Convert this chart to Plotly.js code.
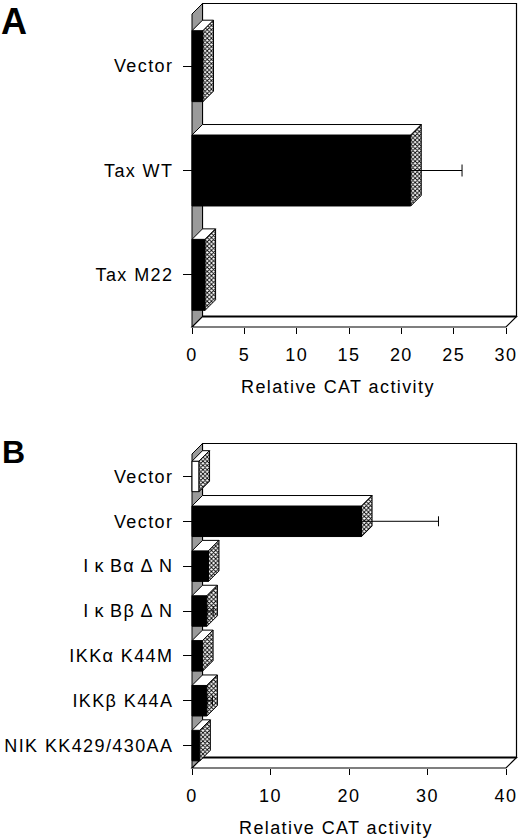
<!DOCTYPE html>
<html>
<head>
<meta charset="utf-8">
<script src="https://cdn.plot.ly/plotly-3.0.1.min.js"></script>
<style>
body{margin:0;background:#fff}
#chart{width:520px;height:839px}
.xtick text,.ytick text,.x2tick text,.y2tick text,.annotation-text{letter-spacing:1.4px}
</style>
</head>
<body>
<div id="chart"></div>
<script>
// Panel A: Tax constructs
var labelsA = ['Vector', 'Tax WT', 'Tax M22'];
var valuesA = [1.05, 20.9, 1.25];
var errorsA = [0, 4.9, 0];
var xTicksA = [0, 5, 10, 15, 20, 25, 30];

// Panel B: dominant negative mutants
var labelsB = ['Vector', 'Vector', 'I\u2009\u03BA\u2009B\u03B1 \u0394\u2009N', 'I\u2009\u03BA\u2009B\u03B2 \u0394\u2009N',
               'IKK\u03B1 K44M', 'IKK\u03B2 K44A', 'NIK KK429/430AA'];
var valuesB = [0.9, 21.6, 2.1, 1.9, 1.35, 1.9, 1.0];
var errorsB = [0, 9.8, 0, 0.8, 0, 0.7, 0];
var xTicksB = [0, 10, 20, 30, 40];
var openBarsB = [0];   // first bar drawn as an open (white) bar

var W = 520, H = 839;
var FONT = 'Liberation Sans, Arial, Helvetica, sans-serif';
var HATCH = {shape: 'x', bgcolor: 'white', fgcolor: 'black', size: 3, solidity: 0.5};

// pixel geometry of each pseudo-3D panel
var geomA = {x0: 192, x1: 506, vmax: 30, top: 14, bottom: 327, domTop: 0, domBottom: 333,
             domLeft: 186, domRight: 520, depth: 10.5, barWidth: 0.68, capW: 6};
var geomB = {x0: 192, x1: 506, vmax: 40, top: 454, bottom: 768, domTop: 440, domBottom: 773,
             domLeft: 186, domRight: 520, depth: 10.5, barWidth: 0.68, capW: 5};

var data = [], shapes = [], layout = {};

function panel(labels, values, errors, openBars, xTicks, g, ax) {
    var n = labels.length;
    var ppu = (g.x1 - g.x0) / g.vmax;
    var step = (g.bottom - g.top) / n;
    var dx = g.depth / ppu, dy = g.depth / step;
    var half = g.barWidth / 2;
    var idx = labels.map(function (d, i) { return i; });
    var xa = 'x' + ax, ya = 'y' + ax;

    // front faces
    data.push({
        type: 'bar', orientation: 'h', x: values, y: idx, width: g.barWidth,
        xaxis: xa, yaxis: ya, hoverinfo: 'skip',
        marker: {
            color: idx.map(function (i) { return openBars.indexOf(i) >= 0 ? 'white' : 'black'; }),
            line: {color: 'black', width: 1}
        }
    });

    // top and side faces
    var tx = [], ty = [], sx = [], sy = [];
    values.forEach(function (v, i) {
        var t = i - half, b = i + half;
        tx.push(0, v, v + dx, dx, 0, null);
        ty.push(t, t, t - dy, t - dy, t, null);
        sx.push(v, v + dx, v + dx, v, v, null);
        sy.push(t, t - dy, b - dy, b, t, null);
    });
    data.push({
        type: 'scatter', mode: 'lines', x: tx, y: ty, xaxis: xa, yaxis: ya,
        fill: 'toself', fillcolor: 'white', line: {color: 'black', width: 1}, hoverinfo: 'skip'
    });
    data.push({
        type: 'scatter', mode: 'lines', x: sx, y: sy, xaxis: xa, yaxis: ya,
        fill: 'toself', fillcolor: 'white', fillpattern: HATCH,
        line: {color: 'black', width: 1}, hoverinfo: 'skip'
    });

    // one-sided error bars
    var ex = [], ey = [], ee = [], ez = [];
    values.forEach(function (v, i) {
        if (errors[i] > 0) { ex.push(v); ey.push(i); ee.push(errors[i]); ez.push(0); }
    });
    data.push({
        type: 'scatter', mode: 'markers', x: ex, y: ey, xaxis: xa, yaxis: ya,
        marker: {size: 1, color: 'rgba(0,0,0,0)'}, hoverinfo: 'skip',
        error_x: {type: 'data', symmetric: false, array: ee, arrayminus: ez,
                  color: 'black', thickness: 1, width: g.capW}
    });

    // walls and floor
    var fTop = -0.5, fBot = n - 0.5, bTop = fTop - dy, bBot = fBot - dy;
    var P = function (pts) {
        return pts.map(function (p, k) { return (k ? 'L' : 'M') + p[0] + ',' + p[1]; }).join('');
    };
    shapes.push({type: 'path', xref: xa, yref: ya, layer: 'below',
        path: P([[dx, bBot], [dx, bTop], [g.vmax + dx, bTop], [g.vmax + dx, bBot]]),
        line: {color: 'black', width: 1.2}});
    shapes.push({type: 'path', xref: xa, yref: ya, layer: 'below',
        path: P([[0, fTop], [dx, bTop], [dx, bBot], [0, fBot]]) + 'Z',
        fillcolor: '#9a9a9a', line: {color: 'black', width: 1}});
    shapes.push({type: 'path', xref: xa, yref: ya, layer: 'below',
        path: P([[0, fBot], [g.vmax, fBot], [g.vmax + dx, bBot], [dx, bBot]]) + 'Z',
        fillcolor: 'white', line: {color: 'black', width: 1.2}});
    shapes.push({type: 'line', xref: xa, yref: ya, layer: 'below',
        x0: dx, y0: bBot, x1: g.vmax + dx, y1: bBot, line: {color: 'black', width: 2}});

    layout['xaxis' + ax] = {
        domain: [g.domLeft / W, g.domRight / W],
        range: [(g.domLeft - g.x0) / ppu, (g.domRight - g.x0) / ppu],
        anchor: 'free', position: 1 - g.bottom / H,
        showline: false, showgrid: false, zeroline: false,
        ticks: 'outside', ticklen: 6, tickwidth: 1, tickcolor: 'black',
        tickvals: xTicks, ticklabelstandoff: 5,
        tickfont: {family: FONT, size: 18, color: 'black'}, fixedrange: true
    };
    layout['yaxis' + ax] = {
        domain: [1 - g.domBottom / H, 1 - g.domTop / H],
        range: [fBot + (g.domBottom - g.bottom) / step, fTop - (g.top - g.domTop) / step],
        anchor: 'free', position: g.x0 / W,
        showline: false, showgrid: false, zeroline: false,
        ticks: 'outside', ticklen: 9, tickwidth: 1, tickcolor: 'black',
        tickvals: idx, ticktext: labels, ticklabelstandoff: 6,
        tickfont: {family: FONT, size: 18, color: 'black'}, fixedrange: true
    };
}

panel(labelsA, valuesA, errorsA, [], xTicksA, geomA, '');
panel(labelsB, valuesB, errorsB, openBarsB, xTicksB, geomB, '2');

layout.width = W;
layout.height = H;
layout.margin = {t: 0, b: 0, l: 0, r: 0};
layout.showlegend = false;
layout.paper_bgcolor = 'white';
layout.plot_bgcolor = 'rgba(0,0,0,0)';
layout.bargap = 0;
layout.shapes = shapes;
layout.annotations = [
    {text: '<b>A</b>', xref: 'paper', yref: 'paper', x: 0, y: 1, borderpad: 0,
     xanchor: 'left', yanchor: 'top', showarrow: false,
     font: {family: FONT, size: 36, color: 'black'}},
    {text: '<b>B</b>', xref: 'paper', yref: 'paper', x: 0, y: 1 - 452 / H,
     xanchor: 'left', yanchor: 'middle', showarrow: false,
     font: {family: FONT, size: 32, color: 'black'}},
    {text: 'Relative CAT activity', xref: 'paper', yref: 'paper', x: 338 / W, y: 1 - 387 / H,
     xanchor: 'center', yanchor: 'middle', showarrow: false,
     font: {family: FONT, size: 18, color: 'black'}},
    {text: 'Relative CAT activity', xref: 'paper', yref: 'paper', x: 336 / W, y: 1 - 828 / H,
     xanchor: 'center', yanchor: 'middle', showarrow: false,
     font: {family: FONT, size: 18, color: 'black'}}
];

Plotly.newPlot('chart', data, layout, {displayModeBar: false, staticPlot: true});
</script>
</body>
</html>
